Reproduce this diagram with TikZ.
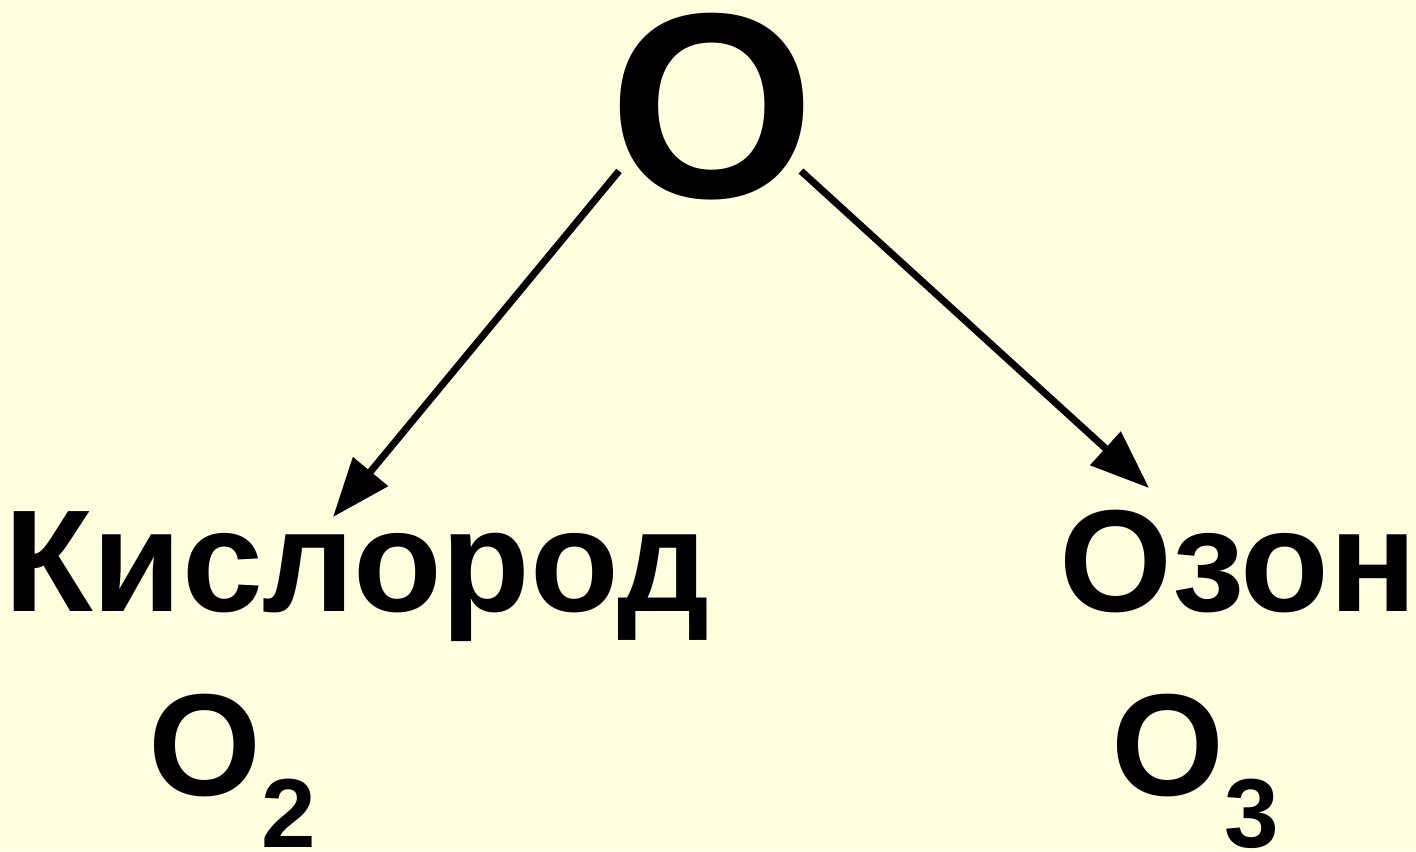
\documentclass[tikz,border=0pt]{standalone}
\usepackage{fontspec}
\setmainfont{Liberation Sans}
\usetikzlibrary{arrows.meta}
\definecolor{bg}{HTML}{FFFFE0}
\begin{document}
\begin{tikzpicture}[x=0.5pt,y=-0.5pt,
  big/.style={inner sep=0pt,font=\fontsize{132pt}{135pt}\selectfont\bfseries},
  lbl/.style={inner sep=0pt,font=\fontsize{72.6pt}{76pt}\selectfont\bfseries},
  arr/.style={line width=3.5pt,-{Triangle[length=29.5pt,width=22pt]}}]
\fill[bg] (0,0) rectangle (1416,851);
\useasboundingbox (0,0) rectangle (1416,851);
\node[big,anchor=base] (top) at (712,197) {O};
\node[lbl,anchor=base] (kis) at (357,611) {Кислород};
\node[lbl,anchor=base] (ozon) at (1238,611) {Озон};
\node[lbl,anchor=base west] (o2) at (148,795) {O\raisebox{-26pt}{\fontsize{49pt}{52pt}\selectfont 2}};
\node[lbl,anchor=base west] (o3) at (1111,795) {O\raisebox{-26pt}{\fontsize{49pt}{52pt}\selectfont 3}};
\coordinate (ls) at (619,171);
\coordinate (le) at (333,517);
\coordinate (rs) at (801,171);
\coordinate (re) at (1149,488);
\draw[arr] (ls) -- (le);
\draw[arr] (rs) -- (re);
\end{tikzpicture}
\end{document}
